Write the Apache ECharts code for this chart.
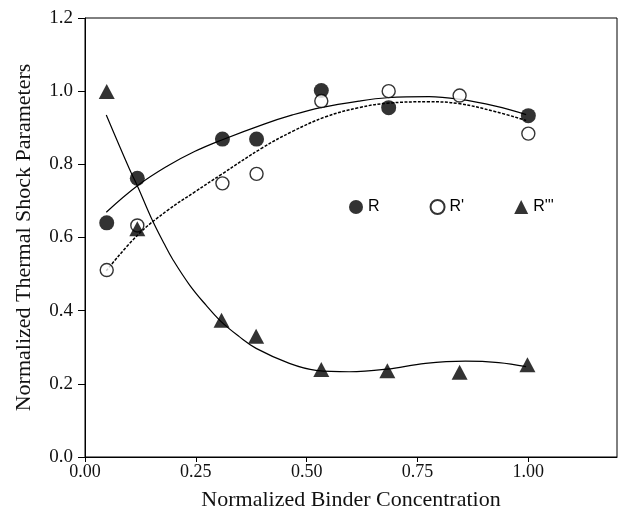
<!DOCTYPE html>
<html>
<head>
<meta charset="utf-8">
<script src="https://cdn.jsdelivr.net/npm/echarts@6/dist/echarts.min.js"></script>
<style>html,body{margin:0;padding:0;background:#fff}#c{width:620px;height:516px}</style>
</head>
<body>
<div id="c"></div>
<script>
// Measured points
var rX = [0.049, 0.118, 0.310, 0.387, 0.533, 0.685, 1.000];
var rY = [0.640, 0.762, 0.869, 0.869, 1.002, 0.955, 0.933];
var rpX = [0.049, 0.118, 0.310, 0.387, 0.533, 0.685, 0.845, 1.000];
var rpY = [0.511, 0.633, 0.748, 0.774, 0.973, 1.000, 0.988, 0.884];
var r3X = [0.049, 0.118, 0.308, 0.386, 0.533, 0.682, 0.845, 0.998];
var r3Y = [0.999, 0.624, 0.374, 0.330, 0.239, 0.236, 0.232, 0.252];
// Fitted curves
var rFitX = [0.048, 0.119, 0.187, 0.247, 0.307, 0.404, 0.468, 0.532, 0.618, 0.682, 0.776, 0.843, 0.926, 0.995];
var rFitY = [0.669, 0.742, 0.796, 0.835, 0.866, 0.910, 0.935, 0.955, 0.973, 0.982, 0.985, 0.978, 0.959, 0.936];
var rpFitX = [0.048, 0.119, 0.187, 0.247, 0.307, 0.400, 0.468, 0.543, 0.618, 0.682, 0.776, 0.843, 0.926, 0.995];
var rpFitY = [0.509, 0.607, 0.675, 0.724, 0.772, 0.845, 0.890, 0.930, 0.955, 0.967, 0.971, 0.966, 0.944, 0.920];
var r3FitX = [0.048, 0.100, 0.119, 0.149, 0.179, 0.198, 0.236, 0.273, 0.307, 0.348, 0.386, 0.461, 0.521, 0.596, 0.680, 0.768, 0.858, 0.933, 0.995];
var r3FitY = [0.935, 0.788, 0.739, 0.655, 0.582, 0.540, 0.470, 0.415, 0.370, 0.329, 0.297, 0.256, 0.237, 0.233, 0.240, 0.256, 0.262, 0.258, 0.247];
var xTicks = [0, 0.25, 0.5, 0.75, 1.0];
var names = ['R', "R'", "R'''"];

function pairs(xs, ys) { return xs.map(function (x, i) { return [x, ys[i]]; }); }

var chart = echarts.init(document.getElementById('c'), null, { renderer: 'canvas' });
var serif = 'Liberation Serif, Times New Roman, serif';
chart.setOption({
  animation: false,
  backgroundColor: '#fff',
  grid: { left: 85, right: 3, top: 18, bottom: 59, show: true, borderColor: '#000', borderWidth: 1, backgroundColor: 'transparent' },
  legend: {
    data: names,
    left: 344, top: 194,
    itemWidth: 14, itemHeight: 14, itemGap: 50,
    textStyle: { fontFamily: 'Liberation Sans, Arial, sans-serif', fontSize: 16, color: '#000' }
  },
  xAxis: {
    type: 'value', min: 0, max: 1.2,
    name: 'Normalized Binder Concentration', nameLocation: 'middle', nameGap: 32,
    nameTextStyle: { fontFamily: serif, fontSize: 22, color: '#111' },
    axisLine: { lineStyle: { color: '#000', width: 1 } },
    axisTick: { show: true, length: 5, customValues: xTicks, lineStyle: { color: '#000' } },
    axisLabel: { customValues: xTicks, fontFamily: serif, fontSize: 18, color: '#111', margin: 6, formatter: function (v) { return v.toFixed(2); } },
    splitLine: { show: false }
  },
  yAxis: {
    type: 'value', min: 0, max: 1.2, interval: 0.2,
    name: 'Normalized Thermal Shock Parameters', nameLocation: 'middle', nameGap: 50,
    nameTextStyle: { fontFamily: serif, fontSize: 22, color: '#111' },
    axisLine: { lineStyle: { color: '#000', width: 1 } },
    axisTick: { show: true, length: 7, lineStyle: { color: '#000' } },
    axisLabel: { fontFamily: serif, fontSize: 19, color: '#111', margin: 12, formatter: function (v) { return v.toFixed(1); } },
    splitLine: { show: false }
  },
  series: [
    { name: 'fitR', type: 'line', data: pairs(rFitX, rFitY), smooth: 0.4, showSymbol: false, lineStyle: { color: '#000', width: 1.2 }, z: 2 },
    { name: 'fitRp', type: 'line', data: pairs(rpFitX, rpFitY), smooth: 0.4, showSymbol: false, lineStyle: { color: '#000', width: 1.5, type: [3, 1.5] }, z: 2 },
    { name: 'fitR3', type: 'line', data: pairs(r3FitX, r3FitY), smooth: 0.4, showSymbol: false, lineStyle: { color: '#000', width: 1.2 }, z: 2 },
    { name: names[0], type: 'scatter', data: pairs(rX, rY), symbol: 'circle', symbolSize: 15, itemStyle: { color: '#000' }, z: 3 },
    { name: names[1], type: 'scatter', data: pairs(rpX, rpY), symbol: 'circle', symbolSize: 13, itemStyle: { color: '#fff', borderColor: '#000', borderWidth: 1.4 }, z: 4 },
    { name: names[2], type: 'scatter', data: pairs(r3X, r3Y), symbol: 'triangle', symbolSize: [16, 15], itemStyle: { color: '#000' }, z: 5 }
  ]
});
</script>
</body>
</html>
